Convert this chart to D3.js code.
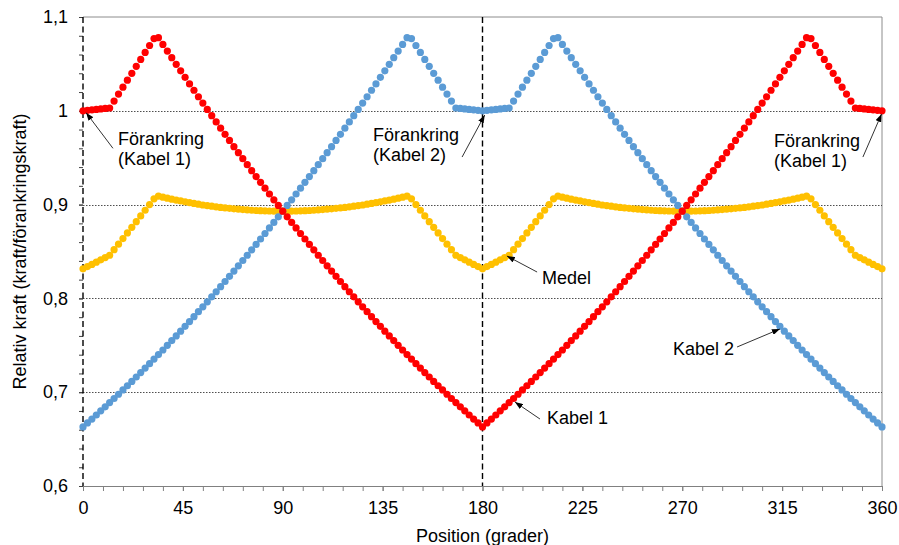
<!DOCTYPE html>
<html>
<head>
<meta charset="utf-8">
<script src="https://cdn.jsdelivr.net/npm/d3@7"></script>
<style>
  body { margin: 0; background: #fff; }
  svg { display: block; font-family: "Liberation Sans", Arial, sans-serif; }
</style>
</head>
<body>
<div id="chart"></div>
<script>
// Position in degrees, one sample every 2 degrees
const positions = d3.range(0, 361, 2);

// Kabel 1 (red)
const kabel1 = [
  1.000,1.0005,1.001,1.0015,1.002,1.0025,1.003,1.0104,1.0178,1.0252,
  1.0326,1.0400,1.0474,1.0548,1.0622,1.0696,1.0770,1.0780,1.0708,1.0637,
  1.0566,1.0496,1.0426,1.0357,1.0287,1.0219,1.0150,1.0082,1.0015,0.9948,
  0.9881,0.9815,0.9749,0.9684,0.9618,0.9554,0.9490,0.9426,0.9362,0.9299,
  0.9237,0.9175,0.9113,0.9051,0.8991,0.8930,0.8870,0.8810,0.8751,0.8692,
  0.8633,0.8575,0.8518,0.8460,0.8404,0.8347,0.8291,0.8235,0.8180,0.8125,
  0.8071,0.8017,0.7964,0.7910,0.7858,0.7805,0.7753,0.7702,0.7651,0.7600,
  0.7550,0.7500,0.7450,0.7401,0.7353,0.7304,0.7257,0.7209,0.7162,0.7115,
  0.7069,0.7024,0.6978,0.6933,0.6889,0.6844,0.6801,0.6757,0.6714,0.6672,
  0.6630,
  0.6672,0.6714,0.6757,0.6801,0.6844,0.6889,0.6933,0.6978,0.7024,0.7069,
  0.7115,0.7162,0.7209,0.7257,0.7304,0.7353,0.7401,0.7450,0.7500,0.7550,
  0.7600,0.7651,0.7702,0.7753,0.7805,0.7858,0.7910,0.7964,0.8017,0.8071,
  0.8125,0.8180,0.8235,0.8291,0.8347,0.8404,0.8460,0.8518,0.8575,0.8633,
  0.8692,0.8751,0.8810,0.8870,0.8930,0.8991,0.9051,0.9113,0.9175,0.9237,
  0.9299,0.9362,0.9426,0.9490,0.9554,0.9618,0.9684,0.9749,0.9815,0.9881,
  0.9948,1.0015,1.0082,1.0150,1.0219,1.0287,1.0357,1.0426,1.0496,1.0566,
  1.0637,1.0708,1.0780,1.0770,1.0696,1.0622,1.0548,1.0474,1.0400,1.0326,
  1.0252,1.0178,1.0104,1.003,1.0025,1.002,1.0015,1.001,1.0005,1.000
];

// Kabel 2 (blue)
const kabel2 = [
  0.6630,
  0.6672,0.6714,0.6757,0.6801,0.6844,0.6889,0.6933,0.6978,0.7024,0.7069,
  0.7115,0.7162,0.7209,0.7257,0.7304,0.7353,0.7401,0.7450,0.7500,0.7550,
  0.7600,0.7651,0.7702,0.7753,0.7805,0.7858,0.7910,0.7964,0.8017,0.8071,
  0.8125,0.8180,0.8235,0.8291,0.8347,0.8404,0.8460,0.8518,0.8575,0.8633,
  0.8692,0.8751,0.8810,0.8870,0.8930,0.8991,0.9051,0.9113,0.9175,0.9237,
  0.9299,0.9362,0.9426,0.9490,0.9554,0.9618,0.9684,0.9749,0.9815,0.9881,
  0.9948,1.0015,1.0082,1.0150,1.0219,1.0287,1.0357,1.0426,1.0496,1.0566,
  1.0637,1.0708,1.0780,1.0770,1.0696,1.0622,1.0548,1.0474,1.0400,1.0326,
  1.0252,1.0178,1.0104,1.003,1.0025,1.002,1.0015,1.001,1.0005,1.000,
  1.0005,1.001,1.0015,1.002,1.0025,1.003,1.0104,1.0178,1.0252,
  1.0326,1.0400,1.0474,1.0548,1.0622,1.0696,1.0770,1.0780,1.0708,1.0637,
  1.0566,1.0496,1.0426,1.0357,1.0287,1.0219,1.0150,1.0082,1.0015,0.9948,
  0.9881,0.9815,0.9749,0.9684,0.9618,0.9554,0.9490,0.9426,0.9362,0.9299,
  0.9237,0.9175,0.9113,0.9051,0.8991,0.8930,0.8870,0.8810,0.8751,0.8692,
  0.8633,0.8575,0.8518,0.8460,0.8404,0.8347,0.8291,0.8235,0.8180,0.8125,
  0.8071,0.8017,0.7964,0.7910,0.7858,0.7805,0.7753,0.7702,0.7651,0.7600,
  0.7550,0.7500,0.7450,0.7401,0.7353,0.7304,0.7257,0.7209,0.7162,0.7115,
  0.7069,0.7024,0.6978,0.6933,0.6889,0.6844,0.6801,0.6757,0.6714,0.6672,
  0.6630
];

// Medel (yellow)
const medel = [
  0.8315,0.8339,0.8362,0.8386,0.8411,0.8435,0.8460,0.8519,0.8578,0.8638,
  0.8698,0.8758,0.8818,0.8879,0.8940,0.9000,0.9062,0.9091,0.9079,0.9069,
  0.9058,0.9048,0.9039,0.9030,0.9020,0.9012,0.9004,0.8996,0.8990,0.8983,
  0.8976,0.8970,0.8965,0.8960,0.8955,0.8951,0.8947,0.8943,0.8940,0.8937,
  0.8935,0.8934,0.8932,0.8931,0.8931,
  0.8930,
  0.8931,0.8931,0.8932,0.8934,0.8935,
  0.8937,0.8940,0.8943,0.8947,0.8951,0.8955,0.8960,0.8965,0.8970,0.8976,
  0.8983,0.8990,0.8996,0.9004,0.9012,0.9020,0.9030,0.9039,0.9048,0.9058,
  0.9069,0.9079,0.9091,0.9062,0.9000,0.8940,0.8879,0.8818,0.8758,0.8698,
  0.8638,0.8578,0.8519,0.8460,0.8435,0.8411,0.8386,0.8362,0.8339,0.8315,
  0.8339,0.8362,0.8386,0.8411,0.8435,0.8460,0.8519,0.8578,0.8638,
  0.8698,0.8758,0.8818,0.8879,0.8940,0.9000,0.9062,0.9091,0.9079,0.9069,
  0.9058,0.9048,0.9039,0.9030,0.9020,0.9012,0.9004,0.8996,0.8990,0.8983,
  0.8976,0.8970,0.8965,0.8960,0.8955,0.8951,0.8947,0.8943,0.8940,0.8937,
  0.8935,0.8934,0.8932,0.8931,0.8931,
  0.8930,
  0.8931,0.8931,0.8932,0.8934,0.8935,
  0.8937,0.8940,0.8943,0.8947,0.8951,0.8955,0.8960,0.8965,0.8970,0.8976,
  0.8983,0.8990,0.8996,0.9004,0.9012,0.9020,0.9030,0.9039,0.9048,0.9058,
  0.9069,0.9079,0.9091,0.9062,0.9000,0.8940,0.8879,0.8818,0.8758,0.8698,
  0.8638,0.8578,0.8519,0.8460,0.8435,0.8411,0.8386,0.8362,0.8339,0.8315
];

const xTicks = [0, 45, 90, 135, 180, 225, 270, 315, 360];
const yTicks = [0.6, 0.7, 0.8, 0.9, 1.0, 1.1];
const gridValues = [0.7, 0.8, 0.9, 1.0];
const anchorPositions = [0, 180];

// Annotations in data coordinates: text start, arrow tail, arrow tip
const notes = [
  { lines: ["Förankring", "(Kabel 1)"], text: [15.8, 0.9635], from: [13.5, 0.960], to: [1.4, 0.998] },
  { lines: ["Förankring", "(Kabel 2)"], text: [130.7, 0.9678], from: [170.8, 0.9507], to: [181.0, 0.9955] },
  { lines: ["Förankring", "(Kabel 1)"], text: [311.3, 0.9614], from: [351.4, 0.9507], to: [359.8, 0.9966] },
  { lines: ["Medel"], text: [206.8, 0.8154], from: [204.6, 0.8281], to: [191.0, 0.8452] },
  { lines: ["Kabel 1"], text: [209.1, 0.6661], from: [205.9, 0.6714], to: [194.6, 0.6896] },
  { lines: ["Kabel 2"], text: [265.8, 0.7397], from: [294.7, 0.7482], to: [314.0, 0.7674] }
];

const width = 899;
const height = 545;
const marginTop = 17;
const marginRight = 17;
const marginBottom = 59;
const marginLeft = 83;
const fontSize = 18;

const svg = d3.select("#chart").append("svg")
  .attr("width", width)
  .attr("height", height);

const x = d3.scaleLinear().domain([0, 360]).range([marginLeft, width - marginRight]);
const y = d3.scaleLinear().domain([0.6, 1.1]).range([height - marginBottom, marginTop]);

const sv = d3.formatLocale({ decimal: ",", thousands: " ", grouping: [3], currency: ["", " kr"] });
const fmt = sv.format(".1~f");

// arrow head
svg.append("defs").append("marker")
  .attr("id", "arrow")
  .attr("markerUnits", "userSpaceOnUse")
  .attr("markerWidth", 8)
  .attr("markerHeight", 6)
  .attr("refX", 8)
  .attr("refY", 3)
  .attr("orient", "auto")
  .append("path")
  .attr("d", "M0,0 L8,3 L0,6 Z")
  .attr("fill", "#000");

// plot frame (top and right)
svg.append("path")
  .attr("d", `M${x(0)},${y(1.1)}H${x(360)}V${y(0.6)}`)
  .attr("fill", "none")
  .attr("stroke", "#8c8c8c")
  .attr("stroke-width", 1);

// dotted gridlines
svg.append("g")
  .selectAll("line")
  .data(gridValues)
  .join("line")
  .attr("x1", x(0))
  .attr("x2", x(360))
  .attr("y1", d => Math.round(y(d)) + 0.5)
  .attr("y2", d => Math.round(y(d)) + 0.5)
  .attr("stroke", "#222")
  .attr("stroke-width", 0.8)
  .attr("stroke-dasharray", "1.5,1.5");

// x axis
const xMinor = d3.range(0, 361, 9);
svg.append("g")
  .attr("transform", `translate(0,${y(0.6)})`)
  .call(d3.axisBottom(x).tickValues(xMinor).tickSize(5).tickFormat(""))
  .call(g => g.select(".domain").attr("stroke", "#808080"))
  .call(g => g.selectAll(".tick line").attr("stroke", "#808080"));

svg.append("g")
  .attr("transform", `translate(0,${y(0.6)})`)
  .call(d3.axisBottom(x).tickValues(xTicks).tickSize(5).tickPadding(10))
  .call(g => g.select(".domain").remove())
  .call(g => g.selectAll(".tick line").attr("stroke", "#808080"))
  .call(g => g.selectAll("text")
    .attr("font-family", "Liberation Sans, Arial, sans-serif")
    .attr("font-size", fontSize)
    .attr("fill", "#000"));

// y axis (no axis line, only ticks)
const yMinor = d3.range(0.6, 1.1001, 0.02);
svg.append("g")
  .attr("transform", `translate(${x(0)},0)`)
  .call(d3.axisLeft(y).tickValues(yMinor).tickSize(4).tickFormat(""))
  .call(g => g.select(".domain").remove())
  .call(g => g.selectAll(".tick line").attr("stroke", "#404040"));

svg.append("g")
  .attr("transform", `translate(${x(0)},0)`)
  .call(d3.axisLeft(y).tickValues(yTicks).tickSize(4).tickPadding(11).tickFormat(fmt))
  .call(g => g.select(".domain").remove())
  .call(g => g.selectAll(".tick line").attr("stroke", "#404040"))
  .call(g => g.selectAll("text")
    .attr("font-family", "Liberation Sans, Arial, sans-serif")
    .attr("font-size", fontSize)
    .attr("fill", "#000"));

// dashed anchor lines
svg.append("g")
  .selectAll("line")
  .data(anchorPositions)
  .join("line")
  .attr("x1", d => x(d))
  .attr("x2", d => x(d))
  .attr("y1", y(1.1))
  .attr("y2", y(0.6))
  .attr("stroke", "#000")
  .attr("stroke-width", 1.4)
  .attr("stroke-dasharray", "6,3.5");

// series as markers
const series = [
  { name: "Medel", values: medel, color: "#FFC000" },
  { name: "Kabel 2", values: kabel2, color: "#5B9BD5" },
  { name: "Kabel 1", values: kabel1, color: "#FF0000" }
];

series.forEach(s => {
  svg.append("g")
    .attr("class", "series")
    .selectAll("circle")
    .data(positions.map((p, i) => ({ p, v: s.values[i] })))
    .join("circle")
    .attr("cx", d => x(d.p))
    .attr("cy", d => y(d.v))
    .attr("r", 3.6)
    .attr("fill", s.color);
});

// annotations
const ann = svg.append("g").attr("class", "notes");
notes.forEach(n => {
  ann.append("line")
    .attr("x1", x(n.from[0]))
    .attr("y1", y(n.from[1]))
    .attr("x2", x(n.to[0]))
    .attr("y2", y(n.to[1]))
    .attr("stroke", "#333")
    .attr("stroke-width", 1)
    .attr("marker-end", "url(#arrow)");
  const t = ann.append("text")
    .attr("x", x(n.text[0]))
    .attr("y", y(n.text[1]))
    .attr("font-size", fontSize)
    .attr("fill", "#000");
  n.lines.forEach((l, i) => {
    t.append("tspan")
      .attr("x", x(n.text[0]))
      .attr("dy", i === 0 ? 0 : 20)
      .text(l);
  });
});

// axis titles
svg.append("text")
  .attr("x", (x(0) + x(360)) / 2)
  .attr("y", 542)
  .attr("text-anchor", "middle")
  .attr("font-size", fontSize)
  .text("Position (grader)");

svg.append("text")
  .attr("transform", "rotate(-90)")
  .attr("x", -(y(0.6) + y(1.1)) / 2)
  .attr("y", 26)
  .attr("text-anchor", "middle")
  .attr("font-size", fontSize)
  .text("Relativ kraft (kraft/förankringskraft)");
</script>
</body>
</html>
